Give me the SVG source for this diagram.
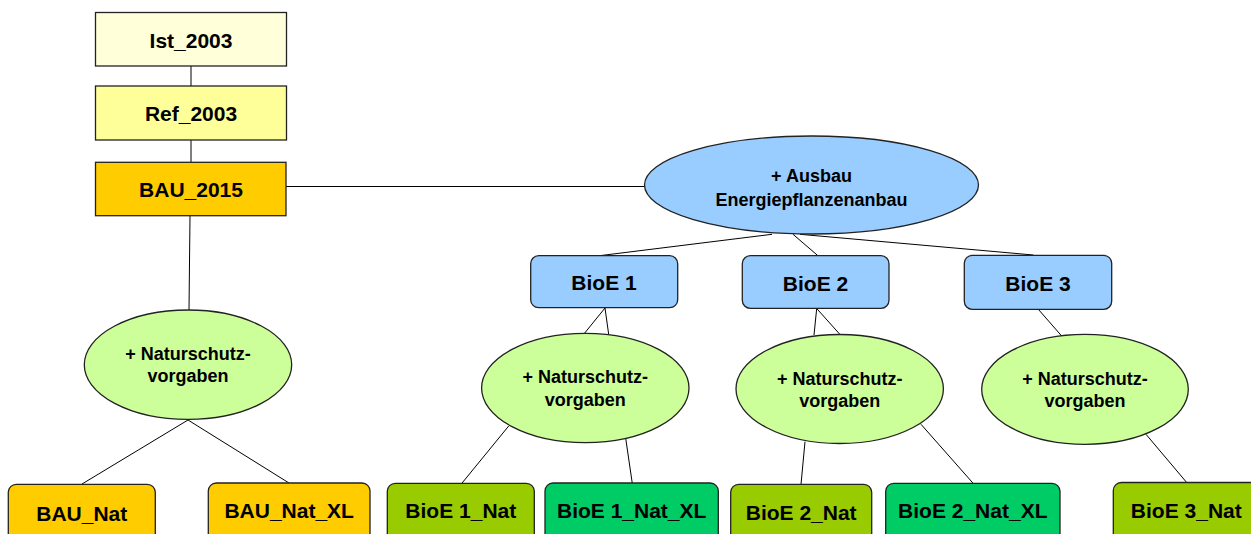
<svg xmlns="http://www.w3.org/2000/svg" width="1251" height="534" viewBox="0 0 1251 534">
  <style>
    .box { stroke: #222; stroke-width: 1.3; }
    .ell { stroke: #222; stroke-width: 1.3; }
    .lbl { font-family: "Liberation Sans", Arial, sans-serif; font-weight: bold; font-size: 21px; fill: #000; text-anchor: middle; }
    .elbl { font-family: "Liberation Sans", Arial, sans-serif; font-weight: bold; font-size: 18px; fill: #000; text-anchor: middle; }
    .conn line { stroke: #000; stroke-width: 1; }
    .ist { fill: #FFFFD9; }
    .ref { fill: #FFFF99; }
    .bau { fill: #FFCC00; }
    .blue { fill: #99CCFF; }
    .green { fill: #CCFF99; }
    .nat { fill: #99CC00; }
    .natxl { fill: #00CC66; }
  </style>

  <!-- connectors -->
  <g id="connectors" class="conn">
    <line x1="191" y1="66" x2="191" y2="86"/>
    <line x1="191" y1="140" x2="191" y2="162"/>
    <line x1="190" y1="216" x2="189" y2="310"/>
    <line x1="286" y1="186.5" x2="645" y2="186.5"/>
    <line x1="188" y1="420" x2="82" y2="484"/>
    <line x1="188" y1="420" x2="289" y2="483"/>
    <line x1="772" y1="234.3" x2="601" y2="255.5"/>
    <line x1="793" y1="234.3" x2="817.7" y2="255.5"/>
    <line x1="800" y1="234.3" x2="1033.3" y2="255"/>
    <line x1="605" y1="308" x2="584.3" y2="333.5"/>
    <line x1="605" y1="308" x2="608.7" y2="334.5"/>
    <line x1="508.7" y1="426" x2="461.7" y2="483.5"/>
    <line x1="625.7" y1="438.3" x2="632.3" y2="483.5"/>
    <line x1="816.7" y1="308.5" x2="814" y2="335"/>
    <line x1="816.7" y1="308.5" x2="840" y2="334.5"/>
    <line x1="805" y1="441.7" x2="801" y2="484.3"/>
    <line x1="921" y1="424.3" x2="973.3" y2="483.5"/>
    <line x1="1038.3" y1="309.3" x2="1061.7" y2="336"/>
    <line x1="1146" y1="434.3" x2="1186.7" y2="482.5"/>
  </g>

  <g id="ist2003">
    <rect class="box ist" x="95.5" y="12.5" width="191" height="53.5"/>
    <text class="lbl" x="191" y="48.3">Ist_2003</text>
  </g>
  <g id="ref2003">
    <rect class="box ref" x="95.5" y="86" width="191" height="54"/>
    <text class="lbl" x="191" y="120.7">Ref_2003</text>
  </g>
  <g id="bau2015">
    <rect class="box bau" x="95.5" y="162.3" width="190.5" height="53.4"/>
    <text class="lbl" x="191" y="196.7">BAU_2015</text>
  </g>

  <g id="ausbau">
    <ellipse class="ell blue" cx="811.5" cy="185" rx="167" ry="49"/>
    <text class="elbl" x="811.5" y="181.7">+ Ausbau</text>
    <text class="elbl" x="811.5" y="206">Energiepflanzenanbau</text>
  </g>

  <g id="bioe1">
    <rect class="box blue" x="530.7" y="255.7" width="147" height="52" rx="8"/>
    <text class="lbl" x="604" y="290.3">BioE 1</text>
  </g>
  <g id="bioe2">
    <rect class="box blue" x="742.3" y="255.7" width="146.7" height="52.6" rx="8"/>
    <text class="lbl" x="815.5" y="290.7">BioE 2</text>
  </g>
  <g id="bioe3">
    <rect class="box blue" x="964.3" y="255.3" width="147.4" height="54" rx="8"/>
    <text class="lbl" x="1038" y="290.7">BioE 3</text>
  </g>

  <g id="nat-bau">
    <ellipse class="ell green" cx="188" cy="364.7" rx="103.7" ry="54.7"/>
    <text class="elbl" x="188" y="360">+ Naturschutz-</text>
    <text class="elbl" x="188" y="382.3">vorgaben</text>
  </g>
  <g id="nat-bioe1">
    <ellipse class="ell green" cx="585.3" cy="388" rx="103.7" ry="54.7"/>
    <text class="elbl" x="585.3" y="383.3">+ Naturschutz-</text>
    <text class="elbl" x="585.3" y="406">vorgaben</text>
  </g>
  <g id="nat-bioe2">
    <ellipse class="ell green" cx="839.7" cy="389" rx="103.7" ry="54.5"/>
    <text class="elbl" x="839.7" y="384.5">+ Naturschutz-</text>
    <text class="elbl" x="839.7" y="407">vorgaben</text>
  </g>
  <g id="nat-bioe3">
    <ellipse class="ell green" cx="1085" cy="389.3" rx="103.3" ry="55"/>
    <text class="elbl" x="1085" y="385">+ Naturschutz-</text>
    <text class="elbl" x="1085" y="406.7">vorgaben</text>
  </g>

  <g id="bau-nat">
    <rect class="box bau" x="8.3" y="484.3" width="147" height="70" rx="8"/>
    <text class="lbl" x="81.8" y="520.7">BAU_Nat</text>
  </g>
  <g id="bau-nat-xl">
    <rect class="box bau" x="208.3" y="483" width="161.7" height="70" rx="8"/>
    <text class="lbl" x="289.2" y="518.3">BAU_Nat_XL</text>
  </g>
  <g id="bioe1-nat">
    <rect class="box nat" x="387.3" y="483.3" width="147" height="70" rx="8"/>
    <text class="lbl" x="460.8" y="518.3">BioE 1_Nat</text>
  </g>
  <g id="bioe1-nat-xl">
    <rect class="box natxl" x="545" y="483" width="173.3" height="70" rx="8"/>
    <text class="lbl" x="631.7" y="518.3">BioE 1_Nat_XL</text>
  </g>
  <g id="bioe2-nat">
    <rect class="box nat" x="730.7" y="484.3" width="141" height="70" rx="8"/>
    <text class="lbl" x="801.2" y="520">BioE 2_Nat</text>
  </g>
  <g id="bioe2-nat-xl">
    <rect class="box natxl" x="885.7" y="483.3" width="174.3" height="70" rx="8"/>
    <text class="lbl" x="972.8" y="518.3">BioE 2_Nat_XL</text>
  </g>
  <g id="bioe3-nat">
    <rect class="box nat" x="1113.3" y="482.5" width="146" height="70" rx="8"/>
    <text class="lbl" x="1186.3" y="518.3">BioE 3_Nat</text>
  </g>
</svg>
